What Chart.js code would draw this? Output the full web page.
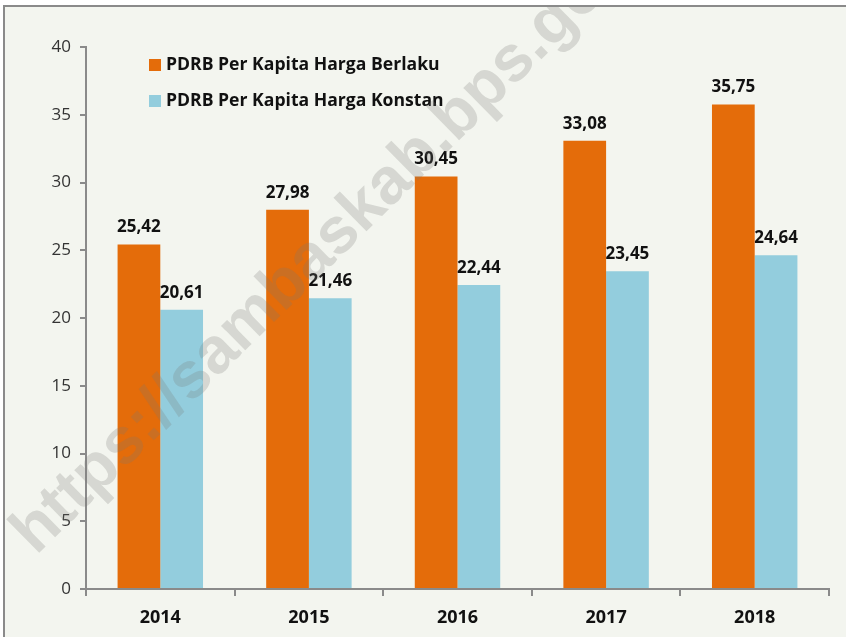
<!DOCTYPE html>
<html><head><meta charset="utf-8">
<script src="https://cdn.jsdelivr.net/npm/chart.js@4.4.1/dist/chart.umd.min.js"></script>
<style>html,body{margin:0;padding:0;background:#fff}#wrap{width:846px;height:637px;position:relative}</style>
</head><body><div id="wrap"><canvas id="c" width="846" height="637"></canvas></div>
<script>
const categories = ['2014','2015','2016','2017','2018'];
const berlaku = [25.42, 27.98, 30.45, 33.08, 35.75];
const konstan = [20.61, 21.46, 22.44, 23.45, 24.64];
const seriesNames = ['PDRB Per Kapita Harga Berlaku', 'PDRB Per Kapita Harga Konstan'];
const yTicks = [0,5,10,15,20,25,30,35,40];
const watermark = 'https://sambaskab.bps.go.id';

const FONT = '"Open Sans", Lato, sans-serif';
const BG = '#F3F5EF';

const framePlugin = {
  id: 'frame',
  beforeDraw(chart) {
    const ctx = chart.ctx;
    ctx.save();
    ctx.fillStyle = '#ffffff';
    ctx.fillRect(0, 0, chart.width, chart.height);
    ctx.fillStyle = BG;
    ctx.fillRect(3, 5, chart.width, chart.height);
    ctx.strokeStyle = '#8a8a8a';
    ctx.lineWidth = 2;
    ctx.beginPath();
    ctx.moveTo(4, chart.height + 2);
    ctx.lineTo(4, 6);
    ctx.lineTo(chart.width + 2, 6);
    ctx.stroke();
    ctx.restore();
  }
};

const labelPlugin = {
  id: 'labels',
  afterDatasetsDraw(chart) {
    const ctx = chart.ctx;
    ctx.save();
    ctx.font = 'bold 17px ' + FONT;
    ctx.fillStyle = '#111111';
    ctx.textAlign = 'center';
    ctx.textBaseline = 'middle';
    chart.data.datasets.forEach((ds, i) => {
      chart.getDatasetMeta(i).data.forEach((bar, j) => {
        ctx.fillText(ds.data[j].toFixed(2).replace('.', ','), bar.x, bar.y - 17);
      });
    });
    // legend
    const area = chart.chartArea;
    ctx.textAlign = 'left';
    ctx.font = 'bold 17.6px ' + FONT;
    chart.data.datasets.forEach((ds, i) => {
      const y = area.top + 18 + i * 36;
      ctx.fillStyle = ds.backgroundColor;
      ctx.fillRect(area.left + 63, y - 6, 12, 12);
      ctx.fillStyle = '#111111';
      ctx.fillText(ds.label, area.left + 80, y);
    });
    // watermark
    ctx.save();
    ctx.beginPath();
    ctx.rect(3, 7, chart.width, chart.height);
    ctx.clip();
    ctx.translate(36, 556);
    ctx.rotate(-44.5 * Math.PI / 180);
    ctx.font = 'bold 65px "Liberation Sans", Arial, sans-serif';
    ctx.fillStyle = 'rgba(120,120,115,0.24)';
    ctx.textAlign = 'left';
    ctx.textBaseline = 'alphabetic';
    ctx.fillText(watermark, 0, 0);
    ctx.restore();
    ctx.restore();
  }
};

new Chart(document.getElementById('c'), {
  type: 'bar',
  data: {
    labels: categories,
    datasets: [
      { label: seriesNames[0], data: berlaku, backgroundColor: '#E46C0A', borderWidth: 0 },
      { label: seriesNames[1], data: konstan, backgroundColor: '#93CDDD', borderWidth: 0 }
    ]
  },
  options: {
    responsive: false,
    animation: false,
    devicePixelRatio: 1,
    layout: { padding: { top: 47, right: 17, left: 0, bottom: 0 } },
    datasets: { bar: { categoryPercentage: 0.575, barPercentage: 1 } },
    plugins: { legend: { display: false }, tooltip: { enabled: false } },
    scales: {
      x: {
        grid: { display: true, drawOnChartArea: false, offset: true, color: '#8a8a8a', lineWidth: 2, tickLength: 7 },
        border: { display: true, color: '#8a8a8a', width: 2 },
        ticks: { color: '#111111', font: { family: FONT, size: 18, weight: 'bold' }, padding: 11 },
        afterFit(s) { s.height = 48; }
      },
      y: {
        min: 0, max: 40,
        afterBuildTicks(s) { s.ticks = yTicks.map(v => ({ value: v })); },
        grid: { display: true, drawOnChartArea: false, color: '#8a8a8a', lineWidth: 2, tickLength: 6 },
        border: { display: true, color: '#8a8a8a', width: 2 },
        ticks: { color: '#333333', font: { family: FONT, size: 17 }, padding: 9 },
        afterFit(s) { s.width = 86; }
      }
    }
  },
  plugins: [framePlugin, labelPlugin]
});
</script></body></html>
